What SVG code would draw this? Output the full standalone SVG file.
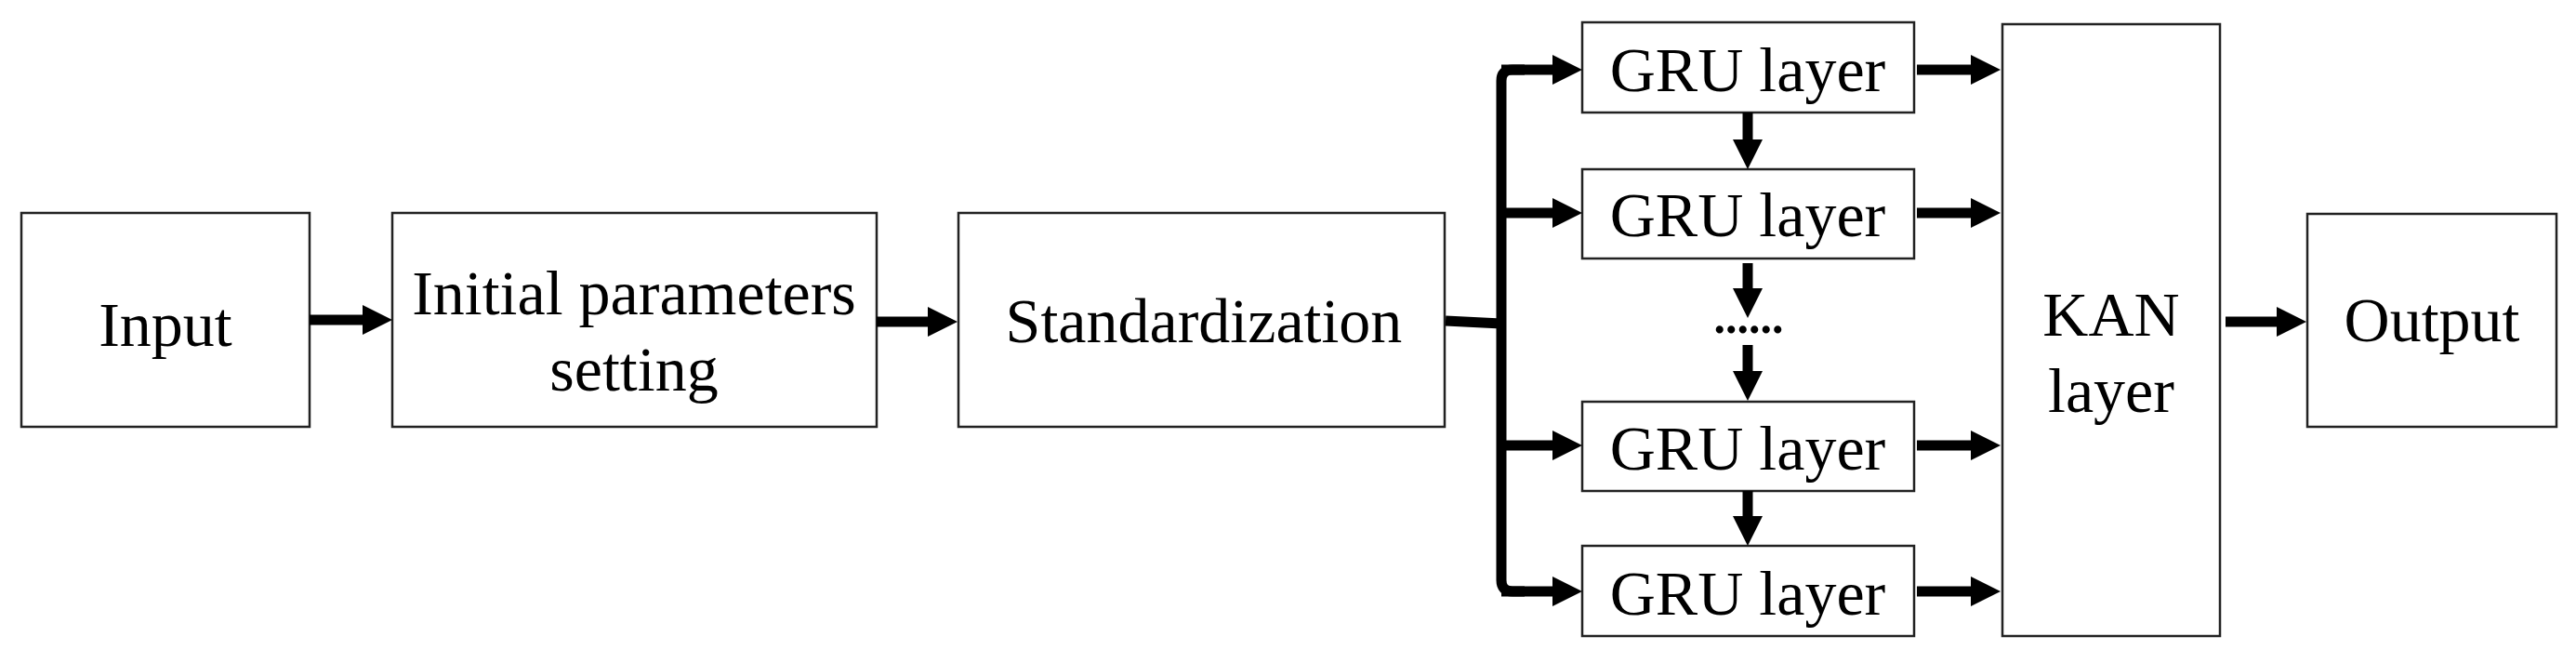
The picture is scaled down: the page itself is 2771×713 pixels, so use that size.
<svg xmlns="http://www.w3.org/2000/svg" width="2771" height="713" viewBox="0 0 2771 713">
<style>
.box{fill:#fff;stroke:#222;stroke-width:2.5}
.t{font-family:"Liberation Serif","Times New Roman",serif;font-size:68px;fill:#000;text-anchor:middle}
.c{fill:none;stroke:#000;stroke-width:11}
.a{fill:none;stroke:#000;stroke-width:11;marker-end:url(#ah)}
</style>
<defs>
<marker id="ah" viewBox="0 0 32 32" refX="2" refY="16" markerWidth="32" markerHeight="32" markerUnits="userSpaceOnUse" orient="auto">
<path d="M0,0 L32,16 L0,32 z" fill="#000"/>
</marker>
</defs>
<rect width="2771" height="713" fill="#fff"/>
<g id="input"><rect class="box" x="23" y="229" width="310" height="230"/><text class="t" x="178" y="372">Input</text></g>
<g id="init"><rect class="box" x="422" y="229" width="521" height="230"/><text class="t" x="682" y="338">Initial parameters</text><text class="t" x="682" y="420">setting</text></g>
<g id="std"><rect class="box" x="1031" y="229" width="523" height="230"/><text class="t" x="1295" y="368">Standardization</text></g>
<g id="gru1"><rect class="box" x="1702" y="24" width="357" height="97"/><text class="t" x="1880" y="98">GRU layer</text></g>
<g id="gru2"><rect class="box" x="1702" y="182" width="357" height="96"/><text class="t" x="1880" y="254">GRU layer</text></g>
<g id="dots"><text x="1881" y="358" style="font-family:'Liberation Serif',serif;font-size:50px;font-weight:bold;text-anchor:middle">......</text></g>
<g id="gru3"><rect class="box" x="1702" y="432" width="357" height="96"/><text class="t" x="1880" y="505">GRU layer</text></g>
<g id="gru4"><rect class="box" x="1702" y="587" width="357" height="97"/><text class="t" x="1880" y="661">GRU layer</text></g>
<g id="kan"><rect class="box" x="2154" y="26" width="234" height="658"/><text class="t" x="2271" y="361">KAN</text><text class="t" x="2271" y="443">layer</text></g>
<g id="output"><rect class="box" x="2482" y="230" width="268" height="229"/><text class="t" x="2616" y="367">Output</text></g>
<g id="connectors">
<line class="a" x1="333" y1="344" x2="392" y2="344"/>
<line class="a" x1="943" y1="346" x2="1000" y2="346"/>
<path class="c" d="M1555,345 L1615,348"/>
<path class="c" d="M1640,75 H1627 Q1615,75 1615,87 V624 Q1615,636 1627,636 H1640"/>
<line class="a" x1="1615" y1="75" x2="1672" y2="75"/>
<line class="a" x1="1615" y1="229" x2="1672" y2="229"/>
<line class="a" x1="1615" y1="479" x2="1672" y2="479"/>
<line class="a" x1="1615" y1="636" x2="1672" y2="636"/>
<line class="a" x1="2062" y1="75" x2="2122" y2="75"/>
<line class="a" x1="2062" y1="229" x2="2122" y2="229"/>
<line class="a" x1="2062" y1="479" x2="2122" y2="479"/>
<line class="a" x1="2062" y1="636" x2="2122" y2="636"/>
<line class="a" x1="1880" y1="121" x2="1880" y2="152"/>
<line class="a" x1="1880" y1="283" x2="1880" y2="312"/>
<line class="a" x1="1880" y1="371" x2="1880" y2="401"/>
<line class="a" x1="1880" y1="528" x2="1880" y2="557"/>
<line class="a" x1="2394" y1="346" x2="2451" y2="346"/>
</g>
</svg>
